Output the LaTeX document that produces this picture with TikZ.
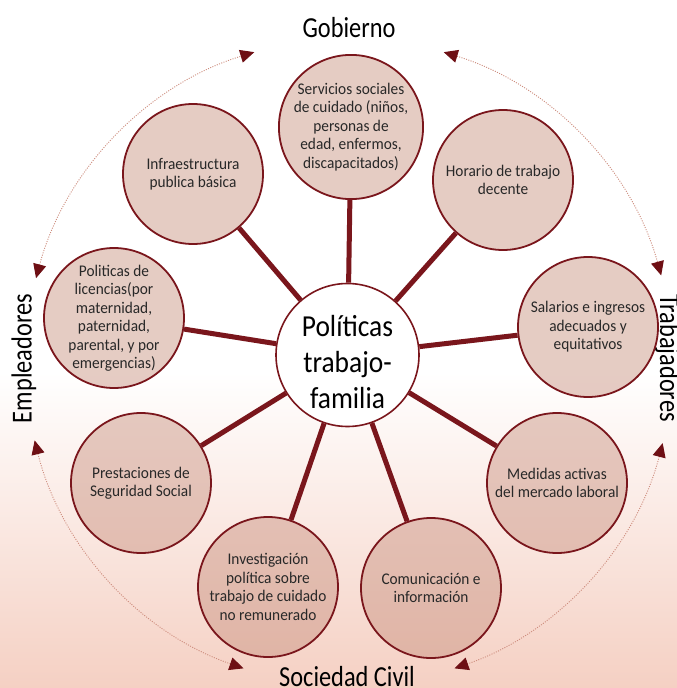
\documentclass[tikz,border=0pt]{standalone}
\usepackage{fontspec}
\setmainfont{Carlito}
\newfontfamily\labfont[FakeStretch=0.84]{Carlito}
\newfontfamily\hubfont[FakeStretch=0.9]{Carlito}
\newfontfamily\circfont[FakeStretch=0.94]{Carlito}
\usetikzlibrary{arrows.meta}

\definecolor{darkred}{RGB}{122,22,28}
\definecolor{arrowred}{RGB}{110,15,20}
\definecolor{dotred}{RGB}{205,140,125}
\definecolor{circfill}{RGB}{199,142,124}
\definecolor{bgpink}{RGB}{245,208,195}
\definecolor{txtgray}{RGB}{40,40,40}

\begin{document}
\begin{tikzpicture}[x=1pt,y=1pt,
  outer/.style={circle, draw=darkred, line width=1.8pt, fill=circfill, fill opacity=0.45, text opacity=1, minimum size=140pt, inner sep=0pt, align=center, font=\circfont\fontsize{16.3}{18.5}\selectfont, text=txtgray},
  hub/.style={circle, draw=darkred, line width=1.6pt, fill=white, minimum size=143pt, inner sep=0pt},
  hubtext/.style={align=center, inner sep=0pt, font=\hubfont\fontsize{30.5}{36}\selectfont, text=black},
  spoke/.style={draw=darkred, line width=5pt},
  cyc/.style={draw=dotred, line width=0.9pt, dash pattern=on 1pt off 1.4pt, {Triangle[length=14pt,width=13pt,color=arrowred]}-{Triangle[length=14pt,width=13pt,color=arrowred]}},
  lab/.style={font=\labfont\fontsize{29}{32}\selectfont, text=black}
]
\useasboundingbox (0,0) rectangle (677,-688);
\clip (0,0) rectangle (677,-688);
\fill[white] (0,0) rectangle (677,-372);
\shade[top color=white, bottom color=bgpink] (0,-372) rectangle (677,-688);

% cycle arcs
\coordinate (A) at (349,-362);
\path (A) ++(165:324) coordinate (a1s);
\path (A) ++(73:324) coordinate (a2s);
\path (A) ++(-14.5:324) coordinate (a3s);
\path (A) ++(-109:324) coordinate (a4s);
\draw[cyc] (a1s) arc[start angle=165, end angle=107, radius=324];
\draw[cyc] (a2s) arc[start angle=73, end angle=15.5, radius=324];
\draw[cyc] (a3s) arc[start angle=-14.5, end angle=-71, radius=324];
\draw[cyc] (a4s) arc[start angle=-109, end angle=-166, radius=324];

% labels
\node[lab, anchor=base] (gob) at (349,-37.3) {Gobierno};
\node[lab, anchor=base] (soc) at (347,-686) {Sociedad Civil};
\node[lab, anchor=base, rotate=90] (emp) at (31.5,-358.5) {Empleadores};
\node[lab, anchor=base, rotate=-90] (tra) at (660,-358) {Trabajadores};

% nodes
\node[hub] (O) at (347.5,-355) {};
\node[hubtext] (Otxt) at (347.5,-362) {Políticas\\trabajo-\\familia};
\node[outer] (s1) at (351,-127) {Servicios sociales\\de cuidado (niños,\\personas de\\edad, enfermos,\\discapacitados)};
\node[outer] (s2) at (503,-180) {Horario de trabajo\\decente};
\node[outer] (s3) at (588,-327) {Salarios e ingresos\\adecuados y\\equitativos};
\node[outer] (s4) at (557,-483) {Medidas activas\\del mercado laboral};
\node[outer] (s5) at (431,-588) {Comunicación e\\información};
\node[outer] (s6) at (268,-587) {Investigación\\política sobre\\trabajo de cuidado\\no remunerado};
\node[outer] (s7) at (141,-483) {Prestaciones de\\Seguridad Social};
\node[outer] (s8) at (114,-318) {Politicas de\\licencias(por\\maternidad,\\paternidad,\\parental, y por\\emergencias)};
\node[outer] (s9) at (193,-174) {Infraestructura\\publica básica};

\foreach \n in {s1,s2,s3,s4,s5,s6,s7,s8,s9}{
  \draw[spoke] (O) -- (\n);
}
\end{tikzpicture}
\end{document}
